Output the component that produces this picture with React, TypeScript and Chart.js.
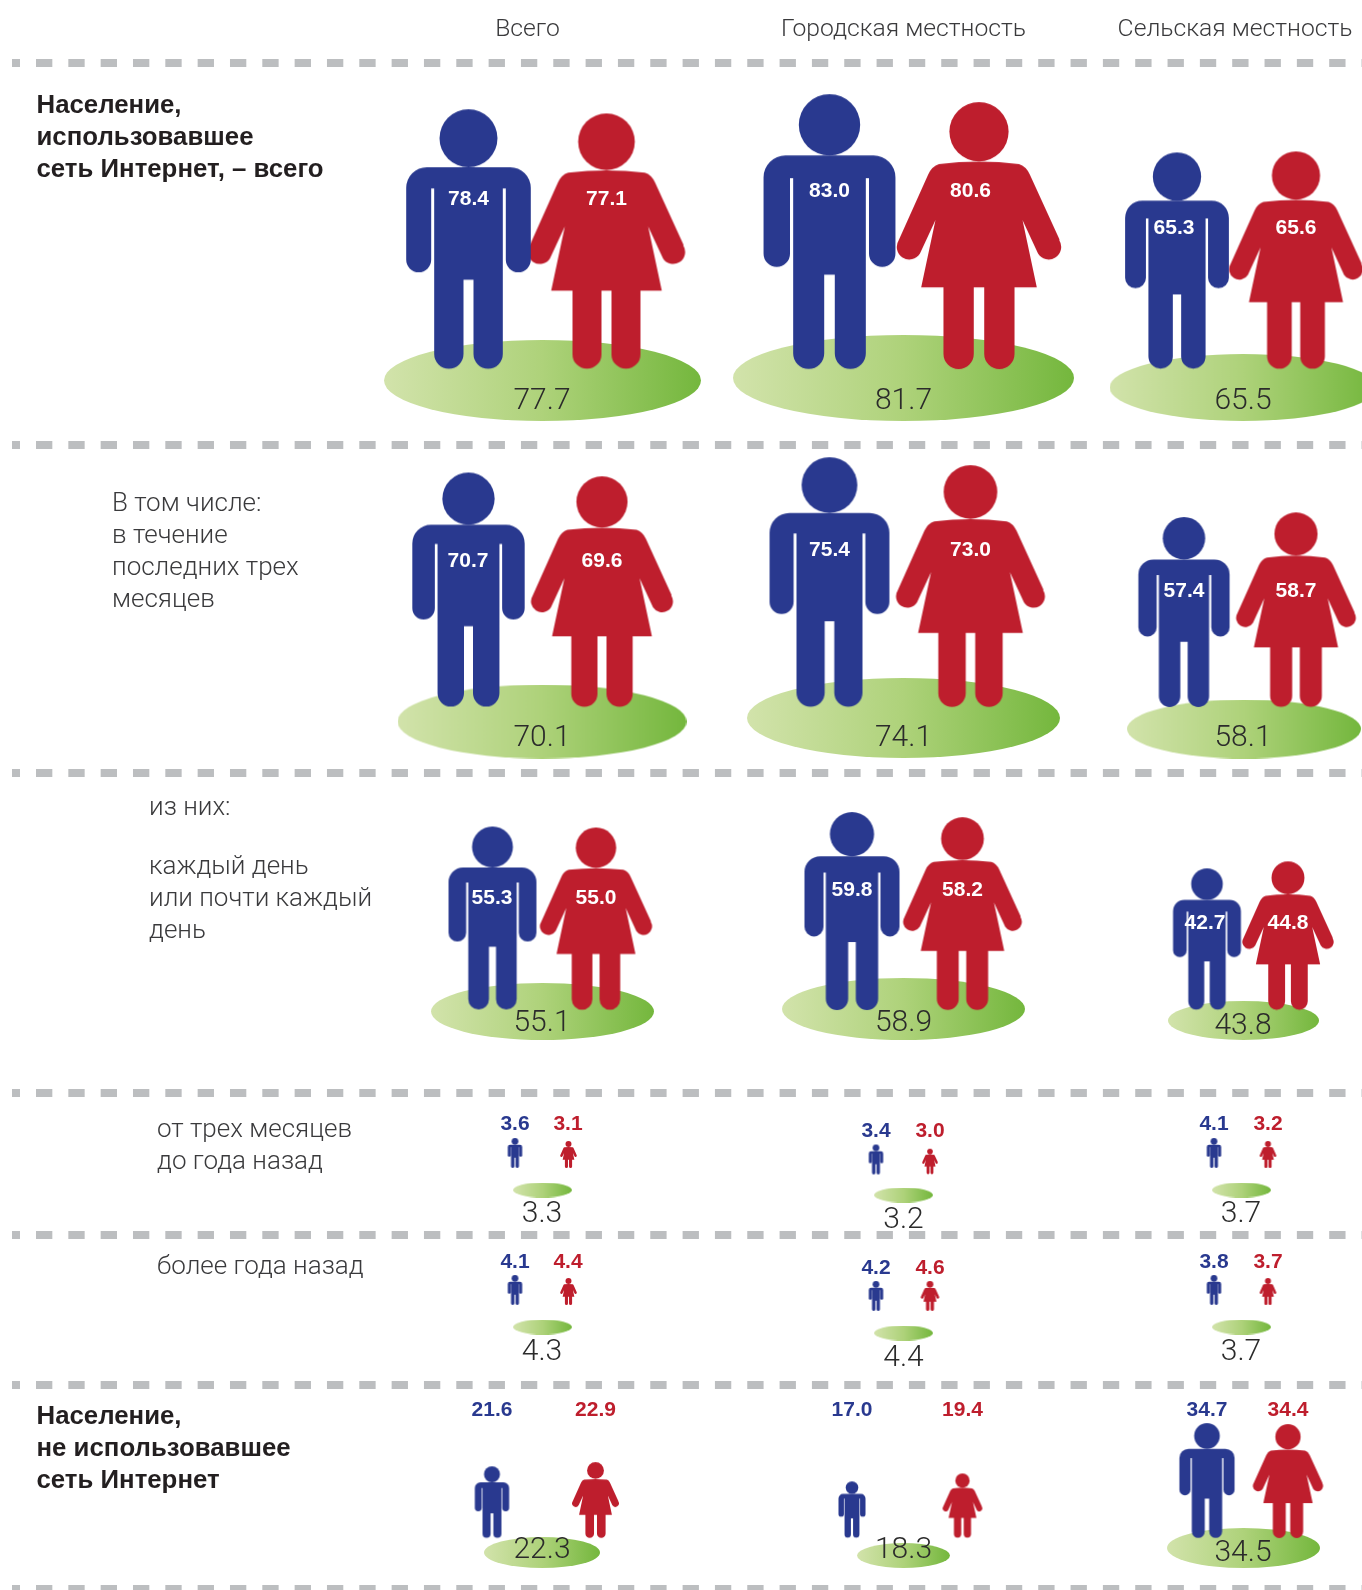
import React, { useEffect, useRef } from "react";
import { Chart, registerables } from "chart.js";

Chart.register(...registerables);

// ---------- data (percent) ----------
const columnTitles = ["Всего", "Городская местность", "Сельская местность"];
const menValues = [
  [78.4, 83.0, 65.3],
  [70.7, 75.4, 57.4],
  [55.3, 59.8, 42.7],
  [3.6, 3.4, 4.1],
  [4.1, 4.2, 3.8],
  [21.6, 17.0, 34.7],
];
const womenValues = [
  [77.1, 80.6, 65.6],
  [69.6, 73.0, 58.7],
  [55.0, 58.2, 44.8],
  [3.1, 3.0, 3.2],
  [4.4, 4.6, 3.7],
  [22.9, 19.4, 34.4],
];
const totalValues = [
  [77.7, 81.7, 65.5],
  [70.1, 74.1, 58.1],
  [55.1, 58.9, 43.8],
  [3.3, 3.2, 3.7],
  [4.3, 4.4, 3.7],
  [22.3, 18.3, 34.5],
];
const rowLabels = [
  { bold: true, x: 36.5, lines: [["Население,", 113], ["использовавшее", 145], ["сеть Интернет, – всего", 177]] },
  { bold: false, x: 112, lines: [["В том числе:", 511], ["в течение", 543], ["последних трех", 575], ["месяцев", 607]] },
  { bold: false, x: 149, lines: [["из них:", 814.5], ["каждый день", 874], ["или почти каждый", 906], ["день", 938]] },
  { bold: false, x: 157, lines: [["от трех месяцев", 1137], ["до года назад", 1169]] },
  { bold: false, x: 157, lines: [["более года назад", 1274]] },
  { bold: true, x: 36.5, lines: [["Население,", 1424], ["не использовавшее", 1456], ["сеть Интернет", 1488]] },
];

// ---------- layout ----------
const W = 1362;
const H = 1590;
const separators = [63, 445, 773, 1093, 1235, 1384.5, 1589];
const manX = [
  [468.5, 829.5, 1177], [468.5, 829.5, 1184], [492.5, 852, 1207],
  [515, 876, 1214], [515, 876, 1214], [492, 852, 1207],
];
const womanX = [
  [606.5, 979, 1296], [602, 970.5, 1296], [596, 962.5, 1288],
  [568.5, 930, 1268], [568.5, 930, 1268], [595.5, 962.5, 1288],
];
const womanLabelX = [
  [606.5, 970.5, 1296], [602, 970.5, 1296], [596, 962.5, 1288],
  [568, 930, 1268], [568, 930, 1268], [595.5, 962.5, 1288],
];
const manLabelX = [
  [468.5, 829.5, 1174], [468, 829.5, 1184], [492, 852, 1205],
  [515, 876, 1214], [515, 876, 1214], [492, 852, 1207],
];
const baseY = [
  [369, 369, 369], [707, 707, 707], [1010, 1010, 1010],
  [1168, 1174.5, 1168], [1305, 1311, 1305], [1538, 1538, 1538],
];
const labelBase = [
  [205, 197, 234], [567, 556, 597], [904, 896, 929],
  [1130, 1137, 1130], [1268, 1274, 1268], [1416, 1416, 1416],
];
const bigScale = 3.31;
const smallManH = 30;
const smallWomanH = [
  [27, 25.5, 27],
  [27, 30, 27],
];
const ellipseX = [
  [542.5, 903.5, 1243], [542, 903.5, 1244], [542.5, 903.5, 1243.5],
  [542.5, 903.5, 1241.5], [542.5, 903.5, 1241.5], [542, 903.5, 1243.5],
];
const ellipseY = [
  [380.5, 378, 387.5], [721.5, 718, 729], [1011.5, 1009, 1020.5],
  [1190, 1195, 1190], [1327, 1333, 1327], [1552.5, 1555.5, 1548],
];
const ellipseW = [
  [317, 341, 267], [289, 313, 234], [223, 243, 151],
  [59, 59, 59], [59, 59, 59], [116, 93, 153],
];
const ellipseH = [
  [81, 86, 67], [74, 80, 59], [57, 62, 39],
  [15, 15, 15], [15, 15, 15], [31, 25, 40],
];
const totalTextX = [
  [542, 903.5, 1243], [542, 903.5, 1243], [542, 903.5, 1243],
  [542, 903.5, 1241], [542, 903.5, 1241], [542, 903.5, 1243],
];
const totalTextBase = [
  [409, 409, 409], [746, 746, 746], [1031, 1031, 1034],
  [1221.5, 1228, 1221.5], [1359.5, 1366, 1359.5], [1558, 1558, 1561],
];
const columnTitleX = [527.5, 903.5, 1235];

// ---------- colours / fonts ----------
const BLUE = "#29398f";
const RED = "#be1e2d";
const LIGHT = "300 26px Roboto, 'Liberation Sans', sans-serif";
const TITLE = "300 24.7px Roboto, 'Liberation Sans', sans-serif";
const BOLD = "bold 25.8px 'Liberation Sans', Arial, sans-serif";

function manGlyph(height: number): HTMLCanvasElement {
  const s = height / 779;
  const c = document.createElement("canvas");
  c.width = Math.ceil(380 * s) + 2;
  c.height = Math.ceil(height) + 2;
  const g = c.getContext("2d")!;
  g.translate(c.width / 2, 1);
  g.scale(s, s);
  g.fillStyle = BLUE;
  g.beginPath();
  g.arc(0, 87, 87, 0, Math.PI * 2);
  g.fill();
  g.beginPath();
  g.moveTo(-125, 174);
  g.lineTo(125, 174);
  g.arcTo(187, 174, 187, 236, 62);
  g.lineTo(187, 452);
  g.arc(149.5, 452, 37.5, 0, Math.PI);
  g.lineTo(112, 238);
  g.lineTo(103, 238);
  g.lineTo(103, 735);
  g.arc(59, 735, 44, 0, Math.PI);
  g.lineTo(15, 512);
  g.lineTo(-15, 512);
  g.lineTo(-15, 735);
  g.arc(-59, 735, 44, 0, Math.PI);
  g.lineTo(-103, 238);
  g.lineTo(-112, 238);
  g.lineTo(-112, 452);
  g.arc(-149.5, 452, 37.5, 0, Math.PI);
  g.lineTo(-187, 236);
  g.arcTo(-187, 174, -125, 174, 62);
  g.closePath();
  g.fill();
  return c;
}

function womanGlyph(height: number): HTMLCanvasElement {
  const s = height / 766;
  const c = document.createElement("canvas");
  c.width = Math.ceil(474 * s) + 2;
  c.height = Math.ceil(height) + 2;
  const g = c.getContext("2d")!;
  g.translate(c.width / 2, 1);
  g.scale(s, s);
  g.fillStyle = RED;
  g.beginPath();
  g.arc(0, 85, 85, 0, Math.PI * 2);
  g.fill();
  g.beginPath();
  g.moveTo(-115, 178);
  g.quadraticCurveTo(0, 164, 115, 178);
  g.quadraticCurveTo(135, 184, 146, 208);
  g.lineTo(231, 394);
  g.arc(200, 416, 36, -0.55, Math.PI * 0.82);
  g.lineTo(125, 339);
  g.lineTo(166, 532);
  g.lineTo(102, 532);
  g.lineTo(102, 723);
  g.arc(58.5, 723, 43.5, 0, Math.PI);
  g.lineTo(15, 532);
  g.lineTo(-15, 532);
  g.lineTo(-15, 723);
  g.arc(-58.5, 723, 43.5, 0, Math.PI);
  g.lineTo(-102, 532);
  g.lineTo(-166, 532);
  g.lineTo(-125, 339);
  g.arc(-200, 416, 36, Math.PI * 0.18, Math.PI + 0.55);
  g.lineTo(-146, 208);
  g.quadraticCurveTo(-135, 184, -115, 178);
  g.closePath();
  g.fill();
  return c;
}

function groundGlyph(w: number, h: number): HTMLCanvasElement {
  const c = document.createElement("canvas");
  c.width = Math.round(w);
  c.height = Math.round(h);
  const g = c.getContext("2d")!;
  const grad = g.createLinearGradient(0, 0, c.width, 0);
  grad.addColorStop(0, "#d2e3ab");
  grad.addColorStop(0.5, "#aed27a");
  grad.addColorStop(1, "#74b73d");
  g.fillStyle = grad;
  g.beginPath();
  g.ellipse(c.width / 2, c.height / 2, c.width / 2, c.height / 2, 0, 0, Math.PI * 2);
  g.fill();
  return c;
}

type Cell = { row: number; col: number };
const cells: Cell[] = menValues.flatMap((r, row) => r.map((_, col) => ({ row, col })));
const isSmall = (row: number) => row === 3 || row === 4;

const textPlugin = {
  id: "infographicText",
  afterDraw(chart: any) {
    const { ctx, scales } = chart;
    const px = (v: number) => scales.x.getPixelForValue(v);
    const py = (v: number) => scales.y.getPixelForValue(v);
    const put = (t: string, x: number, y: number, font: string, color: string, align: CanvasTextAlign) => {
      ctx.font = font;
      ctx.fillStyle = color;
      ctx.textAlign = align;
      ctx.textBaseline = "alphabetic";
      ctx.fillText(t, px(x), py(y));
    };
    ctx.save();
    columnTitles.forEach((t, i) => put(t, columnTitleX[i], 36, TITLE, "#3a3a3c", "center"));
    rowLabels.forEach((r) =>
      r.lines.forEach(([t, y]) =>
        put(t as string, r.x, y as number, r.bold ? BOLD : LIGHT, r.bold ? "#231f20" : "#3a3a3c", "left")
      )
    );
    const valueFont = "bold 21px 'Liberation Sans', Arial, sans-serif";
    const totalFont = "300 30px Roboto, 'Liberation Sans', sans-serif";
    cells.forEach(({ row, col }) => {
      const white = row < 3;
      put(menValues[row][col].toFixed(1), manLabelX[row][col], labelBase[row][col], valueFont, white ? "#ffffff" : BLUE, "center");
      put(womenValues[row][col].toFixed(1), womanLabelX[row][col], labelBase[row][col], valueFont, white ? "#ffffff" : RED, "center");
      put(totalValues[row][col].toFixed(1), totalTextX[row][col], totalTextBase[row][col], totalFont, "#2b2b2b", "center");
    });
    ctx.restore();
  },
};

export default function App() {
  const ref = useRef<HTMLCanvasElement | null>(null);
  useEffect(() => {
    document.body.style.margin = "0";
    document.documentElement.style.overflow = "hidden";
    const menHeights = cells.map(({ row, col }) => (isSmall(row) ? smallManH : menValues[row][col] * bigScale));
    const womenHeights = cells.map(({ row, col }) =>
      isSmall(row) ? smallWomanH[row - 3][col] : womenValues[row][col] * bigScale
    );
    const chart = new Chart(ref.current!, {
      type: "scatter",
      data: {
        datasets: [
          {
            label: "Мужчины",
            order: 1,
            clip: false,
            data: cells.map(({ row, col }, i) => ({ x: manX[row][col], y: baseY[row][col] - menHeights[i] / 2 })),
            pointStyle: menHeights.map((h) => manGlyph(h)),
            pointRadius: 3,
          },
          {
            label: "Женщины",
            order: 2,
            clip: false,
            data: cells.map(({ row, col }, i) => ({ x: womanX[row][col], y: baseY[row][col] - womenHeights[i] / 2 })),
            pointStyle: womenHeights.map((h) => womanGlyph(h)),
            pointRadius: 3,
          },
          {
            label: "Всего",
            order: 3,
            clip: false,
            data: cells.map(({ row, col }) => ({ x: ellipseX[row][col], y: ellipseY[row][col] })),
            pointStyle: cells.map(({ row, col }) => groundGlyph(ellipseW[row][col], ellipseH[row][col])),
            pointRadius: 3,
          },
        ] as any,
      },
      options: {
        responsive: false,
        animation: false,
        events: [],
        layout: { autoPadding: false, padding: { left: 12, right: 0, top: 0, bottom: 0 } },
        plugins: { legend: { display: false }, tooltip: { enabled: false } },
        scales: {
          x: { type: "linear", min: 12, max: W, display: false },
          y: {
            type: "linear",
            min: 0,
            max: H,
            reverse: true,
            afterFit: (s: any) => { s.width = 0; },
            afterBuildTicks: (s: any) => { s.ticks = separators.map((value) => ({ value })); },
            ticks: { display: false },
            border: { display: false, dash: [16.33, 16], dashOffset: 8.33 },
            grid: { color: "#bcbec0", lineWidth: 8, drawTicks: false },
          },
        },
      } as any,
      plugins: [textPlugin],
    });
    return () => chart.destroy();
  }, []);
  return <canvas ref={ref} width={W} height={H} style={{ display: "block" }} />;
}
